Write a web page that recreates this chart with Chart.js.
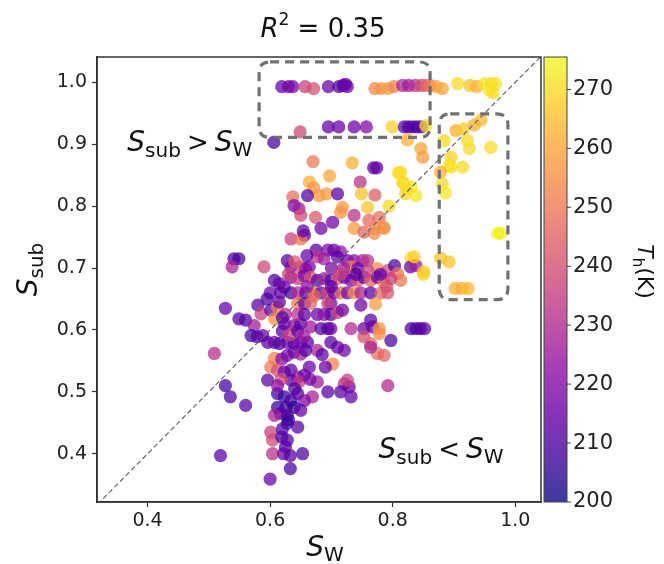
<!DOCTYPE html>
<html><head><meta charset="utf-8">
<script src="https://cdn.jsdelivr.net/npm/chart.js@4/dist/chart.umd.min.js"></script>
<style>html,body{margin:0;padding:0;background:#fff}canvas{display:block}</style>
</head><body>
<canvas id="c" width="664" height="564"></canvas>
<script>
// S_W values
const sw = [
0.619,0.630,0.637,0.657,0.671,0.695,0.712,0.719,0.723,0.726,
0.771,0.781,0.792,0.802,0.816,0.826,0.837,0.847,0.854,0.861,
0.871,0.881,0.906,0.926,0.937,0.950,0.961,0.968,0.958,0.964,
0.695,0.712,0.737,0.757,0.799,0.819,0.826,0.833,0.840,0.847,
0.854,0.649,0.606,0.824,0.846,0.849,0.884,0.903,0.916,0.933,
0.944,0.922,0.925,0.960,0.895,0.892,0.895,0.914,0.878,0.881,
0.886,0.813,0.818,0.830,0.838,0.821,0.794,0.971,0.976,0.878,
0.892,0.902,0.913,0.923,0.830,0.850,0.809,0.816,0.823,0.830,
0.838,0.845,0.852,0.670,0.734,0.769,0.774,0.664,0.697,0.747,
0.749,0.771,0.671,0.680,0.661,0.692,0.710,0.637,0.639,0.647,
0.650,0.674,0.702,0.718,0.715,0.737,0.759,0.761,0.778,0.772,
0.786,0.770,0.737,0.753,0.683,0.656,0.634,0.650,0.785,0.654,
0.541,0.549,0.538,0.590,0.628,0.634,0.650,0.658,0.664,0.675,
0.694,0.704,0.715,0.677,0.688,0.710,0.726,0.737,0.751,0.759,
0.732,0.743,0.775,0.792,0.803,0.829,0.838,0.835,0.851,0.808,
0.813,0.607,0.615,0.623,0.634,0.645,0.656,0.666,0.677,0.688,
0.699,0.710,0.721,0.732,0.743,0.753,0.764,0.775,0.786,0.797,
0.617,0.634,0.645,0.658,0.672,0.683,0.694,0.704,0.715,0.726,
0.737,0.748,0.764,0.781,0.792,0.645,0.656,0.666,0.699,0.694,
0.580,0.527,0.549,0.560,0.585,0.574,0.569,0.579,0.588,0.601,
0.612,0.607,0.623,0.639,0.650,0.666,0.645,0.656,0.677,0.688,
0.699,0.710,0.718,0.683,0.694,0.699,0.732,0.753,0.764,0.767,
0.778,0.778,0.797,0.748,0.772,0.753,0.764,0.775,0.786,0.764,
0.596,0.607,0.615,0.628,0.639,0.650,0.661,0.699,0.710,0.721,
0.677,0.702,0.607,0.601,0.619,0.628,0.639,0.650,0.658,0.612,
0.623,0.634,0.645,0.656,0.664,0.596,0.634,0.647,0.677,0.694,
0.721,0.729,0.732,0.726,0.715,0.792,0.669,0.527,0.535,0.560,
0.612,0.623,0.634,0.645,0.656,0.612,0.626,0.639,0.650,0.617,
0.628,0.607,0.645,0.628,0.601,0.604,0.604,0.619,0.628,0.625,
0.622,0.633,0.633,0.653,0.519,0.600,0.509,0.615,0.625,0.620,
0.632,0.645,0.655,0.618,0.612,0.640,0.630,0.620,0.665,0.685,
0.690,0.672,0.660,0.700,0.720,0.740,0.760,0.780,0.790,0.600,
0.595,0.630,0.640,0.660,0.700,0.715,0.620
];
// S_sub values
const ssub = [
0.993,0.993,0.993,0.993,0.990,0.993,0.993,0.995,0.997,0.993,
0.990,0.990,0.990,0.993,0.995,0.995,0.995,0.995,0.995,0.995,
0.993,0.990,0.998,0.995,0.993,0.998,0.998,0.998,0.987,0.983,
0.928,0.928,0.928,0.928,0.928,0.928,0.928,0.928,0.928,0.928,
0.930,0.920,0.903,0.907,0.893,0.879,0.906,0.922,0.925,0.931,
0.939,0.906,0.893,0.895,0.879,0.866,0.863,0.863,0.855,0.836,
0.821,0.855,0.837,0.831,0.817,0.820,0.800,0.756,0.756,0.716,
0.710,0.667,0.667,0.667,0.716,0.690,0.854,0.839,0.827,0.602,
0.602,0.602,0.602,0.872,0.870,0.862,0.862,0.839,0.849,0.839,
0.820,0.818,0.830,0.817,0.817,0.820,0.820,0.815,0.801,0.796,
0.785,0.782,0.774,0.798,0.790,0.785,0.798,0.777,0.782,0.764,
0.764,0.756,0.764,0.758,0.764,0.753,0.747,0.747,0.766,0.760,
0.715,0.715,0.702,0.702,0.712,0.702,0.702,0.699,0.702,0.729,
0.729,0.729,0.726,0.718,0.715,0.718,0.712,0.712,0.712,0.712,
0.702,0.699,0.699,0.696,0.704,0.702,0.704,0.718,0.694,0.691,
0.680,0.680,0.675,0.669,0.685,0.683,0.688,0.685,0.680,0.683,
0.680,0.683,0.685,0.680,0.680,0.685,0.680,0.685,0.677,0.683,
0.660,0.660,0.660,0.660,0.660,0.660,0.660,0.660,0.660,0.660,
0.660,0.660,0.660,0.660,0.660,0.643,0.643,0.643,0.643,0.643,
0.640,0.635,0.618,0.616,0.626,0.607,0.591,0.589,0.591,0.632,
0.637,0.618,0.610,0.607,0.610,0.605,0.625,0.625,0.625,0.625,
0.625,0.628,0.632,0.602,0.602,0.602,0.602,0.602,0.616,0.605,
0.602,0.594,0.583,0.640,0.642,0.589,0.578,0.562,0.559,0.572,
0.580,0.580,0.578,0.580,0.578,0.580,0.580,0.580,0.572,0.567,
0.567,0.545,0.554,0.540,0.553,0.559,0.564,0.561,0.567,0.535,
0.532,0.535,0.524,0.527,0.540,0.519,0.519,0.516,0.516,0.500,
0.513,0.508,0.492,0.519,0.500,0.510,0.492,0.510,0.492,0.478,
0.497,0.492,0.486,0.497,0.486,0.475,0.475,0.475,0.470,0.465,
0.462,0.462,0.443,0.449,0.435,0.422,0.400,0.427,0.422,0.411,
0.400,0.397,0.376,0.400,0.397,0.359,0.562,0.645,0.625,0.598,
0.592,0.598,0.590,0.520,0.510,0.505,0.455,0.440,0.520,0.560,
0.540,0.655,0.670,0.670,0.700,0.690,0.695,0.690,0.670,0.660,
0.650,0.690,0.710,0.720,0.700,0.690,0.620
];
// T_h (K) values
const th = [
214,216,218,236,240,214,212,214,212,216,
254,256,258,252,230,226,232,238,244,250,
258,260,270,266,262,272,270,272,272,270,
214,214,216,220,268,212,210,212,208,214,
270,238,208,262,260,258,270,262,268,262,
264,270,270,270,268,270,272,270,262,270,
272,270,270,272,272,270,270,274,274,266,
266,262,262,264,270,268,270,270,270,210,
208,210,212,250,262,212,214,262,260,232,
266,244,256,258,212,258,212,248,220,226,
238,242,216,258,256,232,266,246,248,254,
256,254,258,246,216,214,236,250,256,214,
210,208,228,238,212,216,236,226,218,212,
220,214,224,232,226,212,216,222,228,232,
254,214,254,240,210,214,226,268,268,248,
250,210,214,216,220,236,218,240,212,226,
210,244,214,218,240,212,246,214,250,236,
212,208,230,216,250,214,238,212,248,218,
254,228,212,246,242,250,214,246,216,236,
212,214,212,210,236,226,208,210,214,212,
252,256,216,220,212,226,232,214,216,222,
212,236,216,212,210,214,230,216,212,214,
256,254,210,216,258,240,246,248,246,228,
212,216,210,214,212,216,212,212,214,216,
228,252,252,250,222,218,214,226,212,240,
216,212,226,214,216,212,212,234,226,212,
232,216,214,236,212,230,228,208,210,212,
208,206,210,212,220,206,208,204,214,210,
212,228,212,210,236,238,232,212,210,212,
214,212,208,210,212,214,232,214,230,212,
236,214,226,240,222,210,206,210,218,212,
214,246,222,214,226,212,236,214,240,214,
210,236,242,214,218,236,212
];
const xTicks = [0.4, 0.6, 0.8, 1.0];
const yTicks = [0.4, 0.5, 0.6, 0.7, 0.8, 0.9, 1.0];
const cbTicks = [200, 210, 220, 230, 240, 250, 260, 270];
const diagonalLine = [0.30, 1.06];
// highlighted regions (data units): [xmin, xmax, ymin, ymax]
const regionA = [0.582, 0.861, 0.911, 1.033];
const regionB = [0.876, 0.988, 0.649, 0.949];

const VMIN = 200, VMAX = 275.5;
const PLASMA = [[13,8,135],[65,4,157],[106,0,168],[143,13,164],[177,42,144],[204,71,120],[225,100,98],[242,132,75],[252,166,54],[252,206,37],[240,249,33]];
function plasma(t, a) {
  t = Math.max(0, Math.min(1, t));
  const f = t * 10, i = Math.min(9, Math.floor(f)), u = f - i;
  const c0 = PLASMA[i], c1 = PLASMA[i + 1];
  const c = c0.map((v, k) => Math.round(v + (c1[k] - v) * u));
  return `rgba(${c[0]},${c[1]},${c[2]},${a})`;
}
const FAM = '"DejaVu Sans"';
const IT = s => `italic ${s}px ${FAM}`;
const RG = s => `${s}px ${FAM}`;

function drawRich(ctx, parts, x, y, align, rot) {
  ctx.save();
  ctx.translate(x, y);
  if (rot) ctx.rotate(rot);
  ctx.textBaseline = 'alphabetic';
  ctx.textAlign = 'left';
  ctx.fillStyle = '#111';
  let w = 0;
  parts.forEach(p => { ctx.font = p.f; p.w = ctx.measureText(p.t).width; w += p.w + (p.gap || 0); });
  let cx = align === 'center' ? -w / 2 : 0;
  parts.forEach(p => { ctx.font = p.f; ctx.fillText(p.t, cx, p.dy || 0); cx += p.w + (p.gap || 0); });
  ctx.restore();
}

function roundRect(ctx, x0, y0, x1, y1, r) {
  ctx.beginPath();
  ctx.moveTo(x0 + r, y0);
  ctx.lineTo(x1 - r, y0);
  ctx.quadraticCurveTo(x1, y0, x1, y0 + r);
  ctx.lineTo(x1, y1 - r);
  ctx.quadraticCurveTo(x1, y1, x1 - r, y1);
  ctx.lineTo(x0 + r, y1);
  ctx.quadraticCurveTo(x0, y1, x0, y1 - r);
  ctx.lineTo(x0, y0 + r);
  ctx.quadraticCurveTo(x0, y0, x0 + r, y0);
  ctx.closePath();
}

const deco = {
  id: 'deco',
  afterDraw(chart) {
    const ctx = chart.ctx, xs = chart.scales.x, ys = chart.scales.y, cb = chart.scales.cb;
    const a = chart.chartArea;
    // dashed regions
    ctx.save();
    ctx.strokeStyle = 'rgba(105,105,105,0.95)';
    ctx.lineWidth = 3.2;
    ctx.setLineDash([9, 6]);
    [regionA, regionB].forEach(r => {
      roundRect(ctx, xs.getPixelForValue(r[0]), ys.getPixelForValue(r[3]),
                     xs.getPixelForValue(r[1]), ys.getPixelForValue(r[2]), 11);
      ctx.stroke();
    });
    ctx.restore();
    // plot frame
    ctx.save();
    ctx.strokeStyle = '#333';
    ctx.lineWidth = 1.5;
    ctx.strokeRect(a.left, a.top, a.right - a.left, a.bottom - a.top);
    ctx.restore();
    // colorbar
    const cx0 = a.right + 3, cx1 = a.right + 26;
    const cyTop = cb.getPixelForValue(VMAX), cyBot = cb.getPixelForValue(VMIN);
    const g = ctx.createLinearGradient(0, cyBot, 0, cyTop);
    for (let i = 0; i <= 20; i++) g.addColorStop(i / 20, plasma(i / 20, 0.8));
    ctx.save();
    ctx.fillStyle = g;
    ctx.fillRect(cx0, cyTop, cx1 - cx0, cyBot - cyTop);
    ctx.strokeStyle = '#444';
    ctx.lineWidth = 1;
    ctx.strokeRect(cx0, cyTop, cx1 - cx0, cyBot - cyTop);
    ctx.beginPath();
    cbTicks.forEach(v => { const p = cb.getPixelForValue(v); ctx.moveTo(cx1, p); ctx.lineTo(cx1 + 4, p); });
    ctx.stroke();
    ctx.restore();
    // texts
    const mid = (a.left + a.right) / 2;
    drawRich(ctx, [{t: 'R', f: IT(26)}, {t: '2', f: RG(17), dy: -12}, {t: ' = 0.35', f: RG(26)}], mid + 4, 37, 'center');
    drawRich(ctx, [{t: 'S', f: IT(28)}, {t: 'W', f: RG(20), dy: 5}], mid + 6, 556, 'center');
    drawRich(ctx, [{t: 'S', f: IT(28)}, {t: 'sub', f: RG(20), dy: 6}], 37, (a.top + a.bottom) / 2 - 10, 'center', -Math.PI / 2);
    drawRich(ctx, [{t: 'T', f: IT(22)}, {t: 'h', f: RG(15), dy: 5}, {t: '(K)', f: RG(22)}], 638, (a.top + a.bottom) / 2 - 8, 'center', Math.PI / 2);
    drawRich(ctx, [{t: 'S', f: IT(28)}, {t: 'sub', f: RG(20), dy: 6, gap: 6}, {t: '>', f: RG(26), gap: 6}, {t: 'S', f: IT(28)}, {t: 'W', f: RG(20), dy: 5}],
      xs.getPixelForValue(0.367), ys.getPixelForValue(0.889), 'left');
    drawRich(ctx, [{t: 'S', f: IT(28)}, {t: 'sub', f: RG(20), dy: 6, gap: 6}, {t: '<', f: RG(26), gap: 6}, {t: 'S', f: IT(28)}, {t: 'W', f: RG(20), dy: 5}],
      xs.getPixelForValue(0.777), ys.getPixelForValue(0.393), 'left');
  }
};

const points = sw.map((x, i) => ({x: x, y: ssub[i]}));
const colors = th.map(t => plasma((t - VMIN) / (VMAX - VMIN), 0.74));

const tickFont = {family: 'DejaVu Sans', size: 19};
new Chart(document.getElementById('c'), {
  type: 'scatter',
  data: {
    datasets: [
      {
        type: 'line',
        data: diagonalLine.map(v => ({x: v, y: v})),
        borderColor: '#666',
        borderWidth: 1.2,
        borderDash: [5, 3],
        pointRadius: 0,
        fill: false,
        clip: 0
      },
      {
        data: points,
        backgroundColor: colors,
        borderWidth: 0,
        pointRadius: 6.6,
        pointHoverRadius: 6.6
      }
    ]
  },
  options: {
    responsive: false,
    animation: false,
    devicePixelRatio: 1,
    layout: {padding: {top: 57, left: 0, right: 0, bottom: 0}},
    plugins: {legend: {display: false}, tooltip: {enabled: false}},
    scales: {
      x: {
        type: 'linear', position: 'bottom', min: 0.3175, max: 1.042,
        afterBuildTicks: s => { s.ticks = xTicks.map(v => ({value: v})); },
        afterFit: s => { s.height = 62; },
        ticks: {font: tickFont, color: '#222', padding: 3, maxRotation: 0, callback: v => v.toFixed(1)},
        grid: {drawOnChartArea: false, drawTicks: true, tickLength: 5, tickColor: '#333', tickWidth: 1.2},
        border: {color: '#333', width: 1.5}
      },
      y: {
        type: 'linear', position: 'left', min: 0.322, max: 1.041,
        afterBuildTicks: s => { s.ticks = yTicks.map(v => ({value: v})); },
        afterFit: s => { s.width = 97; },
        ticks: {font: tickFont, color: '#222', padding: 5, callback: v => v.toFixed(1)},
        grid: {drawOnChartArea: false, drawTicks: true, tickLength: 5, tickColor: '#333', tickWidth: 1.2},
        border: {color: '#333', width: 1.5}
      },
      cb: {
        type: 'linear', position: 'right', min: VMIN, max: VMAX,
        afterBuildTicks: s => { s.ticks = cbTicks.map(v => ({value: v})); },
        afterFit: s => { s.width = 123; },
        ticks: {font: {family: 'DejaVu Sans', size: 21}, color: '#222', padding: 32, callback: v => String(v)},
        grid: {display: false, drawTicks: false},
        border: {display: false}
      }
    }
  },
  plugins: [deco]
});
</script>
</body></html>
